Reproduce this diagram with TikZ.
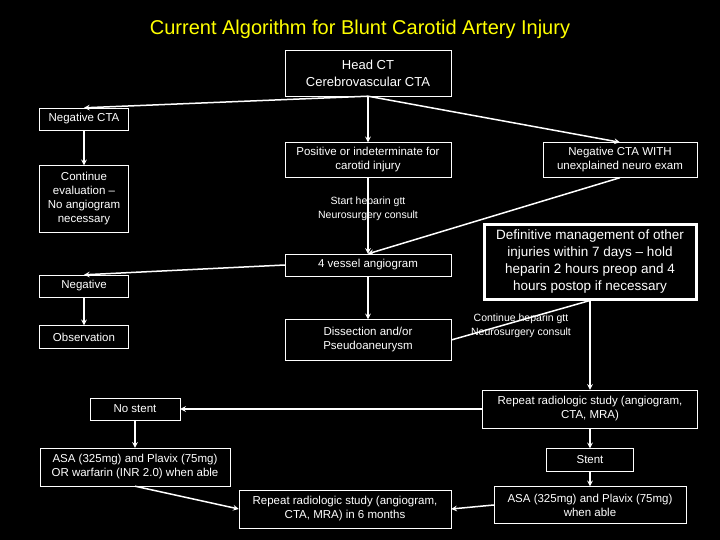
\documentclass[tikz,border=0pt]{standalone}
\usepackage{fontspec}
\setmainfont{Liberation Sans}
\begin{document}
\begin{tikzpicture}[x=1pt,y=-1pt,
    box/.style={draw=white,fill=black,text=white,align=center,font=\fontsize{11.5}{14}\selectfont,inner sep=1pt},
    note/.style={text=white,align=center,font=\fontsize{10.5}{14}\selectfont,inner sep=0pt},
    arr/.style={draw=white,line width=1.5pt,-stealth},
    lin/.style={draw=white,line width=1.5pt}]
\fill[black] (0,0) rectangle (720,540);
\useasboundingbox (0,0) rectangle (720,540);
\node[text={rgb,255:red,255;green,255;blue,0},font=\fontsize{20}{24}\selectfont] (title) at (360,29){Current Algorithm for Blunt Carotid Artery Injury};
%top row
\node[box,minimum width=166,minimum height=46,font=\fontsize{13}{17}\selectfont] (head) at (368,73){Head CT\\Cerebrovascular CTA};
\node[box,minimum width=89,minimum height=22] (negcta) at (84,119){Negative CTA};
\node[box,minimum width=89,minimum height=67] (cont) at (84,199){Continue\\evaluation --\\No angiogram\\necessary};
\node[box,minimum width=166,minimum height=35] (pos) at (368,160){Positive or indeterminate for\\carotid injury};
\node[box,minimum width=154,minimum height=35] (neguex) at (620,160){Negative CTA WITH\\unexplained neuro exam};
\node[box,minimum width=166,minimum height=22] (angio) at (368,265){4 vessel angiogram};
\node[box,minimum width=89,minimum height=22] (neg) at (84,286){Negative};
\node[box,minimum width=89,minimum height=23] (obs) at (84,337){Observation};
\node[box,minimum width=166,minimum height=41] (diss) at (368,340){Dissection and/or\\Pseudoaneurysm};
\node[box,line width=3pt,minimum width=212,minimum height=74,font=\fontsize{13.5}{17}\selectfont] (defm) at (590,262){Definitive management of other\\injuries within 7 days -- hold\\heparin 2 hours preop and 4\\hours postop if necessary};
%bottom rows
\node[box,minimum width=215,minimum height=38] (rep1) at (590,409){Repeat radiologic study (angiogram,\\CTA, MRA)};
\node[box,minimum width=90,minimum height=22] (nostent) at (135,409){No stent};
\node[box,minimum width=190,minimum height=38] (asa1) at (135,467){ASA (325mg) and Plavix (75mg)\\OR warfarin (INR 2.0) when able};
\node[box,minimum width=87,minimum height=23] (stent) at (590,460){Stent};
\node[box,minimum width=192,minimum height=37] (asa2) at (590,505){ASA (325mg) and Plavix (75mg)\\when able};
\node[box,minimum width=212,minimum height=38] (rep2) at (345,509){Repeat radiologic study (angiogram,\\CTA, MRA) in 6 months};
%connectors
\draw[arr] (head.south) -- (negcta.north);
\draw[arr] (head.south) -- (pos.north);
\draw[arr] (head.south) -- (neguex.north);
\draw[arr] (negcta) -- (cont);
\draw[arr] (pos) -- (angio);
\node[note] (hep1) at (368,209){Start heparin gtt\\Neurosurgery consult};
\draw[arr] (neguex.south) -- (angio.north);
\draw[arr] (angio.west) -- (neg.north);
\draw[arr] (neg) -- (obs);
\draw[arr] (angio) -- (diss);
\draw[lin] (diss.east) -- (defm.south);
\node[note] (hep2) at (521,326){Continue heparin gtt\\Neurosurgery consult};
\draw[arr] (defm.south) -- (rep1.north);
\draw[arr] (rep1.west) -- (nostent.east);
\draw[arr] (nostent) -- (asa1);
\draw[arr] (rep1) -- (stent);
\draw[arr] (stent) -- (asa2);
\draw[arr] (asa1.south) -- (rep2.west);
\draw[arr] (asa2.west) -- (rep2.east);
\end{tikzpicture}
\end{document}
